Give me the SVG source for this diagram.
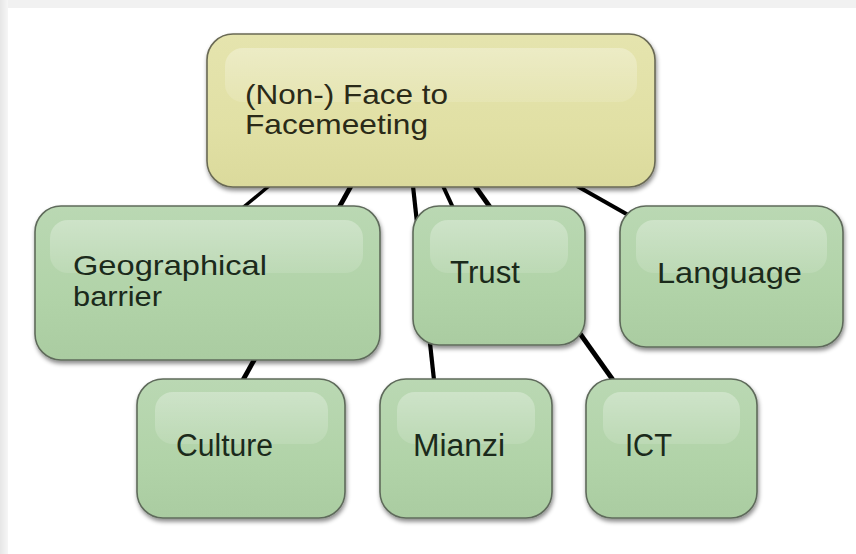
<svg xmlns="http://www.w3.org/2000/svg" width="856" height="554" viewBox="0 0 856 554">
<defs>
<linearGradient id="gGreen2" x1="0" y1="0" x2="0" y2="1">
<stop offset="0" stop-color="#bad8b3"/>
<stop offset="0.6" stop-color="#b1d3a8"/>
<stop offset="1" stop-color="#aacca1"/>
</linearGradient>
<linearGradient id="gYellow" x1="0" y1="0" x2="0" y2="1">
<stop offset="0" stop-color="#e5e4ae"/>
<stop offset="0.6" stop-color="#e1e0a5"/>
<stop offset="1" stop-color="#dbda9c"/>
</linearGradient>
<linearGradient id="gHi" x1="0" y1="0" x2="0" y2="1">
<stop offset="0" stop-color="#ffffff" stop-opacity="0.3"/>
<stop offset="1" stop-color="#ffffff" stop-opacity="0.12"/>
</linearGradient>
<linearGradient id="gEdgeL" x1="0" y1="0" x2="1" y2="0">
<stop offset="0" stop-color="#e6e6e6"/>
<stop offset="1" stop-color="#f6f6f6"/>
</linearGradient>
<filter id="shadow" x="-10%" y="-10%" width="120%" height="130%">
<feDropShadow dx="1" dy="3" stdDeviation="2" flood-color="#000" flood-opacity="0.45"/>
</filter>
</defs>
<style>
.node { stroke: #5f6b5b; stroke-width: 1.6; filter: url(#shadow); }
.green { fill: url(#gGreen2); }
.yellow { fill: url(#gYellow); stroke: #6a6a55; }
.hi { fill: url(#gHi); }
.lbl { font-family: "Liberation Sans", Arial, sans-serif; fill: #1b2a1b; }
.lblY { font-family: "Liberation Sans", Arial, sans-serif; fill: #2a2a18; }
.conn line { stroke: #000; stroke-linecap: butt; }
</style>
<rect x="0" y="0" width="856" height="554" fill="#f1f1f1"/>
<rect x="0" y="0" width="8" height="554" fill="url(#gEdgeL)"/>
<rect x="8" y="8" width="848" height="546" fill="#ffffff"/>

<g id="connectors" class="conn">
<line x1="269" y1="186" x2="240" y2="210" stroke-width="3.5"/>
<line x1="351" y1="186" x2="243" y2="380" stroke-width="4.8"/>
<line x1="413" y1="186" x2="434" y2="380" stroke-width="4.2"/>
<line x1="443" y1="186" x2="455" y2="212" stroke-width="4"/>
<line x1="475" y1="186" x2="613" y2="380" stroke-width="4.8"/>
<line x1="577" y1="186" x2="630" y2="216" stroke-width="4"/>
</g>

<g id="node-face">
<rect class="node yellow" x="207" y="34" width="448" height="153" rx="26"/>
<rect class="hi" x="225" y="48" width="412" height="54" rx="18"/>
<text class="lblY" font-size="28" x="245" y="104" textLength="203" lengthAdjust="spacingAndGlyphs">(Non-) Face to</text>
<text class="lblY" font-size="28" x="245" y="134" textLength="183" lengthAdjust="spacingAndGlyphs">Facemeeting</text>
</g>

<g id="node-geo">
<rect class="node green" x="35" y="206" width="345" height="154" rx="26"/>
<rect class="hi" x="50" y="220" width="313" height="53" rx="18"/>
<text class="lbl" font-size="28" x="73" y="275" textLength="194" lengthAdjust="spacingAndGlyphs">Geographical</text>
<text class="lbl" font-size="28" x="73" y="306" textLength="89" lengthAdjust="spacingAndGlyphs">barrier</text>
</g>

<g id="node-trust">
<rect class="node green" x="413" y="206" width="172" height="139" rx="26"/>
<rect class="hi" x="430" y="220" width="138" height="53" rx="18"/>
<text class="lbl" font-size="31" x="450" y="283" textLength="70" lengthAdjust="spacingAndGlyphs">Trust</text>
</g>

<g id="node-language">
<rect class="node green" x="620" y="206" width="223" height="141" rx="26"/>
<rect class="hi" x="636" y="220" width="191" height="53" rx="18"/>
<text class="lbl" font-size="30" x="657" y="283" textLength="145" lengthAdjust="spacingAndGlyphs">Language</text>
</g>

<g id="node-culture">
<rect class="node green" x="137" y="379" width="208" height="139" rx="26"/>
<rect class="hi" x="155" y="392" width="173" height="52" rx="18"/>
<text class="lbl" font-size="31" x="176" y="456" textLength="97" lengthAdjust="spacingAndGlyphs">Culture</text>
</g>

<g id="node-mianzi">
<rect class="node green" x="380" y="379" width="172" height="139" rx="26"/>
<rect class="hi" x="397" y="392" width="138" height="52" rx="18"/>
<text class="lbl" font-size="31" x="413" y="456" textLength="92" lengthAdjust="spacingAndGlyphs">Mianzi</text>
</g>

<g id="node-ict">
<rect class="node green" x="586" y="379" width="171" height="139" rx="26"/>
<rect class="hi" x="603" y="392" width="137" height="52" rx="18"/>
<text class="lbl" font-size="31" x="625" y="456" textLength="47" lengthAdjust="spacingAndGlyphs">ICT</text>
</g>
</svg>
